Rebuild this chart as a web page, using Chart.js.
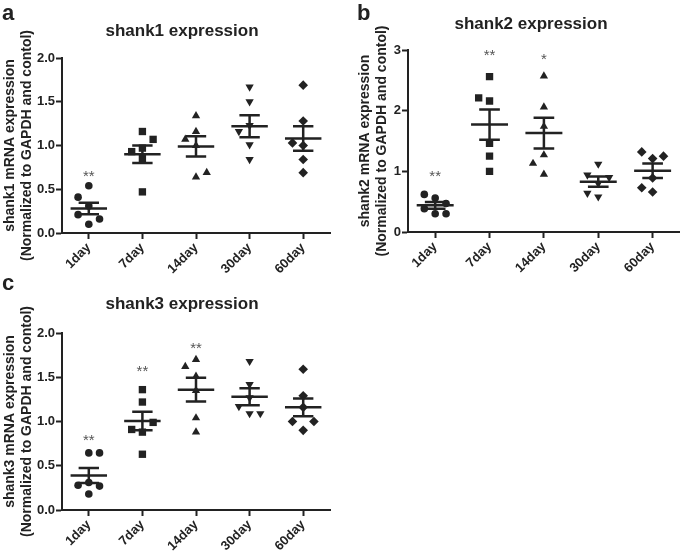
<!DOCTYPE html>
<html>
<head>
<meta charset="utf-8">
<script src="https://cdn.jsdelivr.net/npm/chart.js@4.4.1/dist/chart.umd.min.js"></script>
<style>
  body { margin: 0; background: #fff; }
  #wrap { position: relative; width: 685px; height: 555px; overflow: hidden; }
  #wrap canvas { position: absolute; }
</style>
</head>
<body>
<div id="wrap">
  <canvas id="panelA" width="340" height="285" style="left:0;top:0"></canvas>
  <canvas id="panelB" width="345" height="285" style="left:340px;top:0"></canvas>
  <canvas id="panelC" width="340" height="285" style="left:0;top:270px"></canvas>
</div>
<script>
var days = ['1day', '7day', '14day', '30day', '60day'];

// shank1 (panel a), one list of replicates per day
var shank1Values = [
    [0.54, 0.31, 0.10, 0.41, 0.16, 0.21],
    [1.16, 0.97, 0.85, 0.47, 0.93, 1.07],
    [1.34, 1.16, 1.00, 0.64, 1.07, 0.69],
    [1.67, 1.50, 1.23, 1.01, 0.84, 1.16],
    [1.69, 1.28, 1.00, 0.84, 0.69, 1.03]
];
var shank1Mean = [0.28, 0.90, 0.99, 1.22, 1.08];
var shank1Sem = [0.065, 0.10, 0.115, 0.125, 0.14];
var shank1Stars = ['**', '', '', '', ''];
var shank1StarLevel = [0.69, null, null, null, null];

// shank2 (panel b)
var shank2Values = [
    [0.56, 0.30, 0.62, 0.47, 0.385, 0.30],
    [2.56, 2.16, 1.46, 1.25, 1.00, 2.21],
    [2.57, 2.06, 1.74, 1.27, 0.95, 1.13],
    [1.12, 0.80, 0.58, 0.94, 0.90, 0.64],
    [1.21, 0.89, 0.66, 1.32, 1.25, 0.73]
];
var shank2Mean = [0.44, 1.77, 1.63, 0.83, 1.01];
var shank2Sem = [0.055, 0.25, 0.255, 0.085, 0.12];
var shank2Stars = ['**', '**', '*', '', ''];
var shank2StarLevel = [0.97, 2.96, 2.90, null, null];

// shank3 (panel c)
var shank3Values = [
    [0.645, 0.31, 0.18, 0.28, 0.645, 0.27],
    [1.36, 1.22, 0.88, 0.63, 0.91, 0.99],
    [1.70, 1.51, 1.35, 1.04, 0.88, 1.62],
    [1.68, 1.42, 1.27, 1.09, 1.17, 1.09],
    [1.59, 1.16, 0.90, 1.00, 1.00, 1.29]
];
var shank3Mean = [0.39, 1.005, 1.36, 1.28, 1.16];
var shank3Sem = [0.085, 0.105, 0.135, 0.095, 0.10];
var shank3Stars = ['**', '**', '**', '', ''];
var shank3StarLevel = [0.82, 1.61, 1.87, null, null];

var ink = '#222';
var fontFamily = '"Liberation Sans", Arial, sans-serif';
var xAxisHeight = 45;
var markers = [
    {style: 'circle', radius: 3.8, rotation: 0},
    {style: 'rect', radius: 5.2, rotation: 0},
    {style: 'triangle', radius: 4.8, rotation: 0},
    {style: 'triangle', radius: 4.8, rotation: 180},
    {style: 'rectRot', radius: 4.8, rotation: 0}
];

// simple scatter-dot spreading: a point goes sideways only when it would overlap
function spreadPoints(values, index, gap) {
    var lanes = {};
    var side = -1;
    return values.map(function (v) {
        var tries = [0, side, -side, 2 * side, -2 * side];
        for (var t = 0; t < tries.length; t++) {
            var lane = tries[t];
            var taken = lanes[lane] || [];
            var clash = taken.some(function (u) { return Math.abs(u - v) < gap; });
            if (!clash) {
                taken.push(v);
                lanes[lane] = taken;
                if (lane !== 0) side = -Math.sign(lane);
                return {x: index + lane * 0.2, y: v};
            }
        }
        return {x: index, y: v};
    });
}

function overlay(panel) {
    return {
        id: 'overlay' + panel.letter,
        afterDatasetsDraw: function (chart) {
            var xs = chart.scales.x;
            var ys = chart.scales.y;
            var ctx = chart.ctx;
            ctx.save();
            ctx.strokeStyle = ink;
            ctx.lineWidth = 2.5;
            panel.mean.forEach(function (m, i) {
                var xc = xs.getPixelForValue(i);
                var wide = xs.getPixelForValue(i + 0.34) - xc;
                var narrow = xs.getPixelForValue(i + 0.19) - xc;
                var yMean = ys.getPixelForValue(m);
                var yHi = ys.getPixelForValue(m + panel.sem[i]);
                var yLo = ys.getPixelForValue(m - panel.sem[i]);
                ctx.beginPath();
                ctx.moveTo(xc - wide, yMean);
                ctx.lineTo(xc + wide, yMean);
                ctx.moveTo(xc - narrow, yHi);
                ctx.lineTo(xc + narrow, yHi);
                ctx.moveTo(xc - narrow, yLo);
                ctx.lineTo(xc + narrow, yLo);
                ctx.moveTo(xc, yHi);
                ctx.lineTo(xc, yLo);
                ctx.stroke();
            });
            ctx.fillStyle = '#555';
            ctx.font = '15px ' + fontFamily;
            ctx.textAlign = 'center';
            ctx.textBaseline = 'alphabetic';
            panel.stars.forEach(function (s, i) {
                if (!s) return;
                ctx.fillText(s, xs.getPixelForValue(i), ys.getPixelForValue(panel.starLevel[i]) + 8);
            });
            ctx.fillStyle = ink;
            ctx.font = 'bold 17px ' + fontFamily;
            ctx.textBaseline = 'middle';
            ctx.fillText(panel.title, panel.titleX, panel.titleY);
            ctx.font = 'bold 22px ' + fontFamily;
            ctx.textAlign = 'left';
            ctx.textBaseline = 'alphabetic';
            ctx.fillText(panel.letter, panel.letterX, 20);
            ctx.restore();
        }
    };
}

function drawPanel(panel) {
    var canvas = document.getElementById(panel.canvas);
    var gap = panel.yMax * 0.056;
    var datasets = panel.values.map(function (vals, i) {
        return {
            label: days[i],
            data: spreadPoints(vals, i, gap),
            pointStyle: markers[i].style,
            pointRadius: markers[i].radius,
            pointRotation: markers[i].rotation,
            pointBackgroundColor: ink,
            pointBorderColor: ink,
            pointBorderWidth: 0,
            pointHoverRadius: markers[i].radius
        };
    });
    var tickFont = {family: fontFamily, size: 13, weight: 'bold'};
    new Chart(canvas.getContext('2d'), {
        type: 'scatter',
        data: {datasets: datasets},
        options: {
            responsive: false,
            animation: false,
            devicePixelRatio: 1,
            layout: {
                padding: {
                    left: 0,
                    top: panel.area.top,
                    right: canvas.width - panel.area.right,
                    bottom: canvas.height - panel.area.bottom - xAxisHeight
                }
            },
            plugins: {
                legend: {display: false},
                tooltip: {enabled: false}
            },
            scales: {
                x: {
                    type: 'linear',
                    min: -0.5,
                    max: 4.5,
                    afterBuildTicks: function (scale) {
                        scale.ticks = days.map(function (d, i) { return {value: i}; });
                    },
                    afterFit: function (scale) { scale.height = xAxisHeight; },
                    border: {display: true, color: ink, width: 2},
                    grid: {drawOnChartArea: false, drawTicks: true, tickLength: 6, tickWidth: 2, color: ink},
                    ticks: {
                        autoSkip: false,
                        minRotation: 45,
                        maxRotation: 45,
                        padding: 1,
                        color: ink,
                        font: tickFont,
                        callback: function (value) { return days[value]; }
                    }
                },
                y: {
                    min: 0,
                    max: panel.yMax,
                    afterFit: function (scale) { scale.width = panel.area.left; },
                    border: {display: true, color: ink, width: 2},
                    grid: {drawOnChartArea: false, drawTicks: true, tickLength: 6, tickWidth: 2, color: ink},
                    ticks: {
                        stepSize: panel.yStep,
                        padding: 1,
                        color: ink,
                        font: tickFont,
                        callback: function (value) {
                            return panel.yStep < 1 ? value.toFixed(1) : value;
                        }
                    },
                    title: {
                        display: true,
                        text: [panel.yTitle, '(Normalized to GAPDH and contol)'],
                        color: ink,
                        font: {family: fontFamily, size: 14, weight: 'bold'},
                        padding: {top: panel.titlePad, bottom: 0}
                    }
                }
            }
        },
        plugins: [overlay(panel)]
    });
}

drawPanel({
    canvas: 'panelA', letter: 'a', letterX: 2,
    title: 'shank1 expression', titleX: 182, titleY: 31,
    yTitle: 'shank1 mRNA expression', titlePad: 1.6,
    yMax: 2, yStep: 0.5,
    area: {left: 62, right: 330, top: 58, bottom: 233},
    values: shank1Values, mean: shank1Mean, sem: shank1Sem,
    stars: shank1Stars, starLevel: shank1StarLevel
});

drawPanel({
    canvas: 'panelB', letter: 'b', letterX: 17,
    title: 'shank2 expression', titleX: 191, titleY: 24,
    yTitle: 'shank2 mRNA expression', titlePad: 16.6,
    yMax: 3, yStep: 1,
    area: {left: 68, right: 343, top: 50, bottom: 232},
    values: shank2Values, mean: shank2Mean, sem: shank2Sem,
    stars: shank2Stars, starLevel: shank2StarLevel
});

drawPanel({
    canvas: 'panelC', letter: 'c', letterX: 2,
    title: 'shank3 expression', titleX: 182, titleY: 34,
    yTitle: 'shank3 mRNA expression', titlePad: 1.6,
    yMax: 2, yStep: 0.5,
    area: {left: 62, right: 330, top: 63, bottom: 240},
    values: shank3Values, mean: shank3Mean, sem: shank3Sem,
    stars: shank3Stars, starLevel: shank3StarLevel
});
</script>
</body>
</html>
